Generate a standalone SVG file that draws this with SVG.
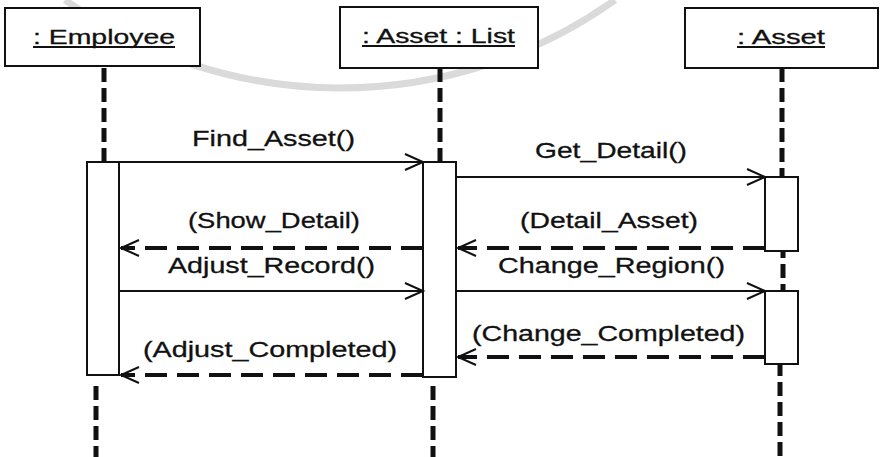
<svg xmlns="http://www.w3.org/2000/svg" width="883" height="457" viewBox="0 0 883 457">
  <style>
    .box { fill: #fff; stroke: #111; stroke-width: 2; }
    .act { fill: #fff; stroke: #111; stroke-width: 2; }
    .life { fill: none; stroke: #111; stroke-width: 5; stroke-dasharray: 14 6; }
    .call { fill: none; stroke: #111; stroke-width: 2; marker-end: url(#open); }
    .reply { fill: none; stroke: #111; stroke-width: 4; stroke-dasharray: 22 10; marker-end: url(#open); }
    .uline { stroke: #111; stroke-width: 2; }
    .hdr { font-family: "Liberation Sans", Arial, sans-serif; font-size: 20px; fill: #111; stroke: #111; stroke-width: 0.3; }
    .lbl { font-family: "Liberation Sans", Arial, sans-serif; font-size: 22px; fill: #111; stroke: #111; stroke-width: 0.3; }
    .mark { fill: none; stroke: #dadada; stroke-width: 7; }
  </style>
  <defs>
    <marker id="open" markerUnits="userSpaceOnUse" markerWidth="24" markerHeight="20" refX="0" refY="0" viewBox="-20 -10 24 20" orient="auto" overflow="visible">
      <path d="M-18,-8 L0,0 L-18,8" fill="none" stroke="#111" stroke-width="2"/>
    </marker>
  </defs>

  <rect width="883" height="457" fill="#fff"/>

  <!-- faint seal ring behind the diagram -->
  <path class="mark" d="M 65,0 A 473.7 473.7 0 0 0 615,0"/>

  <!-- lifelines -->
  <g id="lifelines">
    <line class="life" x1="104" y1="68" x2="104" y2="162"/>
    <line class="life" x1="96" y1="386" x2="96" y2="457"/>
    <line class="life" x1="440" y1="68" x2="440" y2="162"/>
    <line class="life" x1="433" y1="386" x2="433" y2="457"/>
    <line class="life" x1="782" y1="68" x2="782" y2="177"/>
    <line class="life" x1="783" y1="244" x2="783" y2="291"/>
    <line class="life" x1="780" y1="362" x2="780" y2="457"/>
  </g>

  <!-- participants -->
  <g id="employee">
    <rect class="box" x="5" y="8" width="195" height="58"/>
    <text class="hdr" x="33" y="44" textLength="142" lengthAdjust="spacingAndGlyphs">: Employee</text>
    <line class="uline" x1="33" y1="47" x2="175" y2="47"/>
    <rect class="act" x="87" y="162" width="32" height="213"/>
  </g>

  <g id="asset-list">
    <rect class="box" x="340" y="7" width="198" height="61"/>
    <text class="hdr" x="362" y="43" textLength="153" lengthAdjust="spacingAndGlyphs">: Asset : List</text>
    <line class="uline" x1="362" y1="46" x2="515" y2="46"/>
    <rect class="act" x="423" y="162" width="33" height="215"/>
  </g>

  <g id="asset">
    <rect class="box" x="685" y="8" width="193" height="60"/>
    <text class="hdr" x="737" y="44" textLength="88" lengthAdjust="spacingAndGlyphs">: Asset</text>
    <line class="uline" x1="737" y1="47" x2="825" y2="47"/>
    <rect class="act" x="765" y="177" width="33" height="74"/>
    <rect class="act" x="765" y="291" width="33" height="73"/>
  </g>

  <!-- messages -->
  <g id="connectors">
    <line class="call" x1="119" y1="162" x2="423" y2="162"/>
    <line class="call" x1="456" y1="177" x2="765" y2="177"/>
    <line class="reply" x1="423" y1="248" x2="121" y2="248"/>
    <line class="reply" x1="765" y1="248" x2="458" y2="248"/>
    <line class="call" x1="119" y1="291" x2="423" y2="291"/>
    <line class="call" x1="456" y1="291" x2="765" y2="291"/>
    <line class="reply" x1="765" y1="357" x2="458" y2="357"/>
    <line class="reply" x1="423" y1="375" x2="121" y2="375"/>
  </g>

  <g id="labels">
    <text class="lbl" x="192" y="146" textLength="163" lengthAdjust="spacingAndGlyphs">Find_Asset()</text>
    <text class="lbl" x="535" y="158" textLength="152" lengthAdjust="spacingAndGlyphs">Get_Detail()</text>
    <text class="lbl" x="188" y="228" textLength="172" lengthAdjust="spacingAndGlyphs">(Show_Detail)</text>
    <text class="lbl" x="520" y="228" textLength="178" lengthAdjust="spacingAndGlyphs">(Detail_Asset)</text>
    <text class="lbl" x="168" y="273" textLength="207" lengthAdjust="spacingAndGlyphs">Adjust_Record()</text>
    <text class="lbl" x="498" y="273" textLength="227" lengthAdjust="spacingAndGlyphs">Change_Region()</text>
    <text class="lbl" x="472" y="341" textLength="273" lengthAdjust="spacingAndGlyphs">(Change_Completed)</text>
    <text class="lbl" x="143" y="357" textLength="254" lengthAdjust="spacingAndGlyphs">(Adjust_Completed)</text>
  </g>
</svg>
